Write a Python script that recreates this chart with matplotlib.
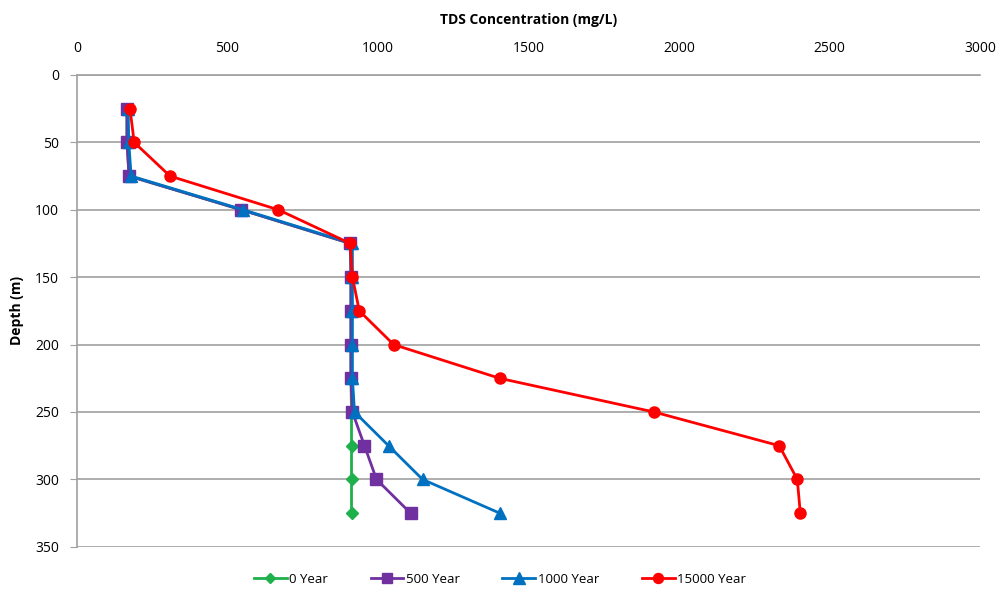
import numpy as np
import matplotlib.pyplot as plt

plt.rcParams['font.family'] = ['Open Sans', 'DejaVu Sans']

depth = [25, 50, 75, 100, 125, 150, 175, 200, 225, 250, 275, 300, 325]

year_0 = [166, 166, 173, 546, 908, 910, 910, 910, 910, 912, 912, 912, 912]
year_500 = [166, 166, 173, 546, 908, 910, 910, 910, 910, 915, 955, 995, 1108]
year_1000 = [170, 172, 180, 552, 915, 915, 915, 915, 915, 922, 1035, 1148, 1404]
year_15000 = [176, 190, 309, 669, 908, 915, 938, 1052, 1404, 1917, 2333, 2393, 2403]

labels = ['0 Year', '500 Year', '1000 Year', '15000 Year']

fig = plt.figure(figsize=(10, 5.95), dpi=100)
ax = fig.add_axes([0.077, 0.081, 0.903, 0.793])

ax.plot(year_0, depth, color='#1db04b', marker='D', markersize=6, linewidth=2, label=labels[0])
ax.plot(year_500, depth, color='#7030a0', marker='s', markersize=8, linewidth=2, label=labels[1])
ax.plot(year_1000, depth, color='#0070c0', marker='^', markersize=9, linewidth=2, label=labels[2])
ax.plot(year_15000, depth, color='#ff0000', marker='o', markersize=8, linewidth=2, label=labels[3])

ax.set_xlim(0, 3000)
ax.set_ylim(350, 0)
ax.set_xticks(np.arange(0, 3001, 500))
ax.set_yticks(np.arange(0, 351, 50))
ax.xaxis.tick_top()
ax.xaxis.set_label_position('top')
ax.tick_params(axis='x', length=0, labelsize=10, pad=14)
ax.tick_params(axis='y', length=5, color='#a0a0a0', labelsize=10, pad=8)
ax.set_xlabel('TDS Concentration (mg/L)', fontsize=10, fontweight='bold', labelpad=12)
ax.set_ylabel('Depth (m)', fontsize=10, fontweight='bold', labelpad=8)

ax.grid(axis='y', color='#a0a0a0', linewidth=1.2)
ax.set_axisbelow(True)
for s in ['right', 'bottom']:
    ax.spines[s].set_visible(False)
ax.spines['top'].set_color('#a0a0a0')
ax.spines['left'].set_color('#a0a0a0')
ax.spines['top'].set_linewidth(1.2)
ax.spines['left'].set_linewidth(1.2)

fig.legend(loc='lower center', ncol=4, frameon=False, fontsize=9.5,
           bbox_to_anchor=(0.5, -0.005), handlelength=2.5, handletextpad=0.2,
           columnspacing=3.2, markerscale=0.9)

fig.savefig('out.png', dpi=100)
